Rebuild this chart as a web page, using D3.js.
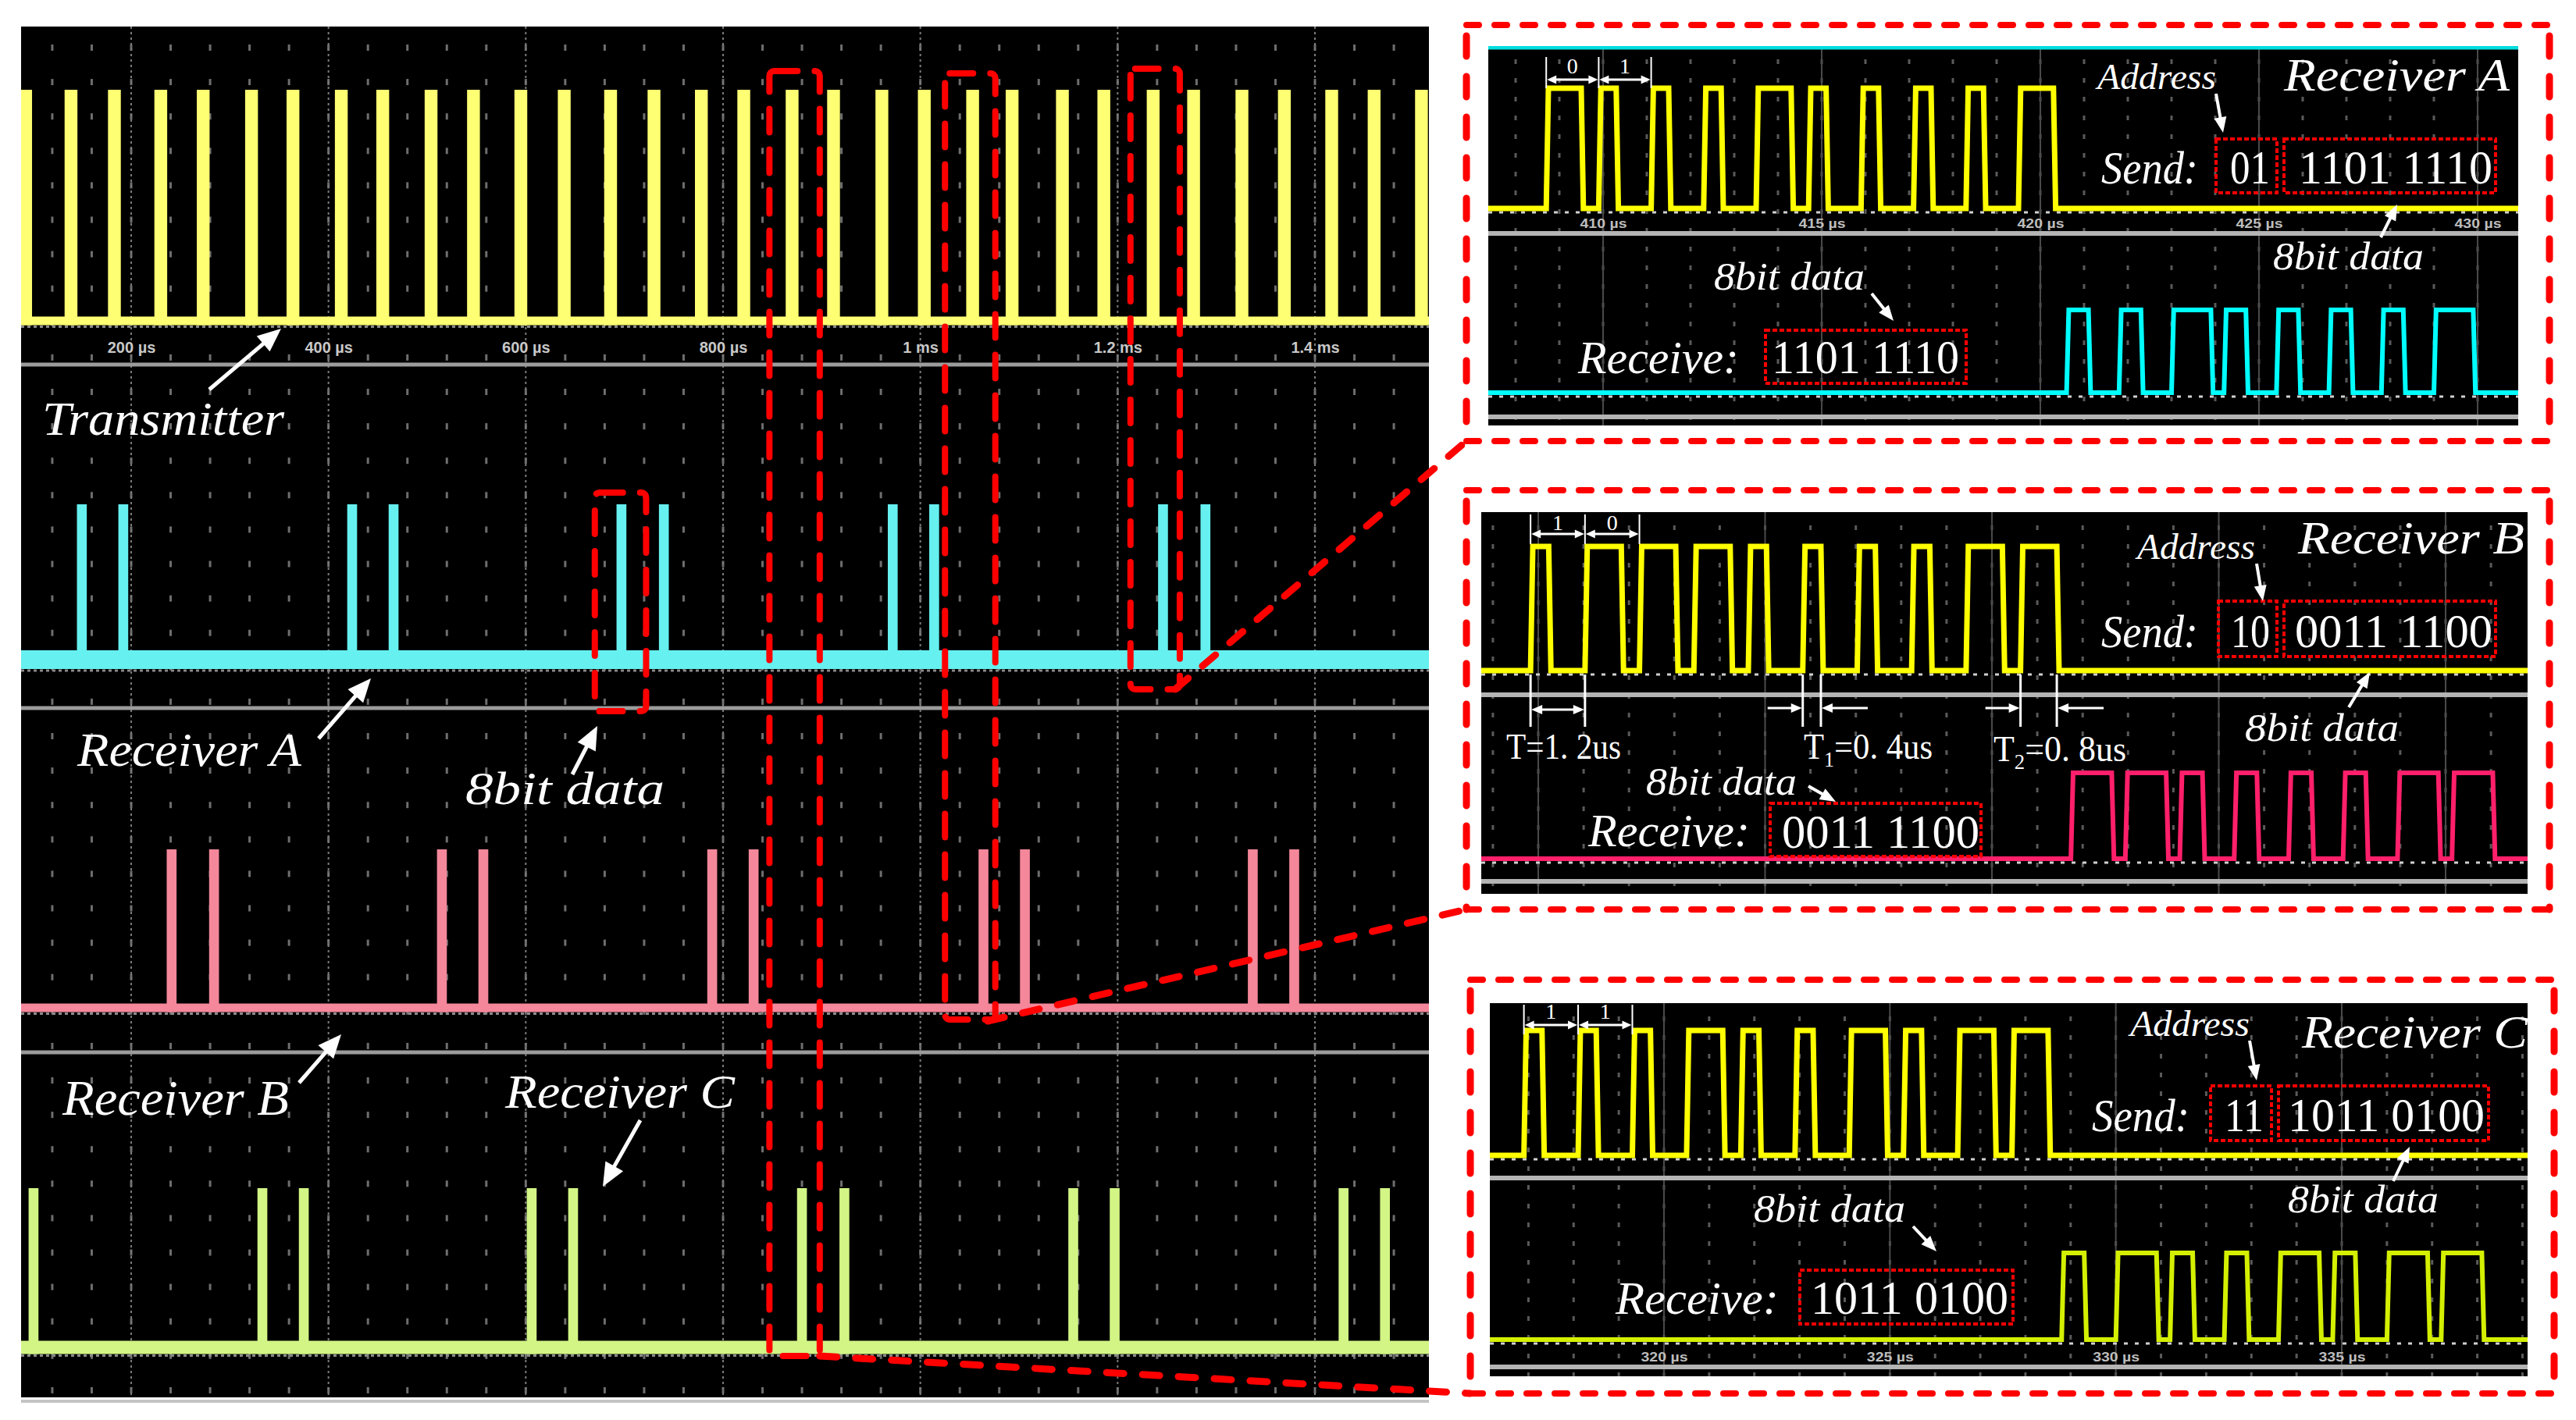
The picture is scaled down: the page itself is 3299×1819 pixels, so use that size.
<!DOCTYPE html>
<html>
  <head>
    <meta charset="utf-8">
    <title>Transmitter and receivers A, B, C</title>
    <script src="https://d3js.org/d3.v7.min.js"></script>
    <style>
      body { margin: 0; background: #fff; }
      text { font-family: "Liberation Serif", "DejaVu Serif", serif; fill: #fff; }
      .it { font-style: italic; }
      .tick text { font-family: "Liberation Sans Narrow", "Liberation Sans", sans-serif; font-weight: bold; }
    </style>
  </head>
  <body>
    <div id="chart"></div>
    <script>
      // ---- values ----
      // overview time axis
      var timeTicks = [200, 400, 600, 800, 1000, 1200, 1400];
      var timeTickLabels = ["200 µs", "400 µs", "600 µs", "800 µs", "1 ms", "1.2 ms", "1.4 ms"];

      // packet / pulse centres on the overview (µs)
      var transmitterPackets = [93, 139, 183, 230, 273, 322, 364, 413, 455, 504, 547, 595, 639, 686, 730, 778,
                                821, 870, 912, 961, 1004, 1053, 1093, 1144, 1186, 1236, 1277, 1326, 1369, 1417, 1460, 1508];
      var receiverAPulses = [150, 192, 424, 466, 697, 740, 972, 1014, 1246, 1289];
      var receiverBPulses = [241, 284, 515, 557, 789, 831, 1064, 1106, 1337, 1379];
      var receiverCPulses = [101, 333, 375, 606, 648, 880, 923, 1155, 1197, 1429, 1471];

      // highlighted windows on the overview (µs)
      var windowSpans = [[670, 722], [847, 898], [1025, 1076], [1213, 1263]];

      // zoomed frames
      var receiverNames = ["Receiver A", "Receiver B", "Receiver C"];
      var addressBits = ["01", "10", "11"];
      var dataBits = ["1101 1110", "0011 1100", "1011 0100"];
      var sendStart = [408.7, -0.17, 316.9];     // first rising edge of the sent frame
      var receiveStart = [420.6, 11.74, 328.8];  // first rising edge of the received byte
      var bitPeriod = 1.2, highOne = 0.4, highZero = 0.8;   // T, T1, T2 (µs)
      var rxHighOne = 0.5, rxHighZero = 0.9;
      var zoomTicksA = [410, 415, 420, 425, 430];
      var zoomTickLabelsA = ["410 µs", "415 µs", "420 µs", "425 µs", "430 µs"];
      var zoomTicksB = [0, 5, 10, 15, 20];
      var zoomTicksC = [320, 325, 330, 335];
      var zoomTickLabelsC = ["320 µs", "325 µs", "330 µs", "335 µs"];

      var W = 3299, H = 1819;
      var svg = d3.select("#chart").append("svg").attr("width", W).attr("height", H);
      svg.append("rect").attr("width", W).attr("height", H).attr("fill", "#fff");
      var defs = svg.append("defs");

      function txt(g, s, x, y, size, len, cls) {
        var t = g.append("text").attr("x", x).attr("y", y).attr("font-size", size).text(s);
        if (cls) t.attr("class", cls);
        if (len) t.attr("textLength", len).attr("lengthAdjust", "spacingAndGlyphs");
        return t;
      }

      // white arrow, head drawn as a triangle
      function arrow(g, x1, y1, x2, y2, w, hl, hw, both) {
        function head(xa, ya, xb, yb) {
          var dx = xb - xa, dy = yb - ya, d = Math.hypot(dx, dy), ux = dx / d, uy = dy / d;
          var bx = xb - ux * hl, by = yb - uy * hl;
          g.append("path")
            .attr("d", "M" + xb + "," + yb + "L" + (bx - uy * hw / 2) + "," + (by + ux * hw / 2) +
                       "L" + (bx + uy * hw / 2) + "," + (by - ux * hw / 2) + "Z")
            .attr("fill", "#fff");
          return [bx + ux * 2, by + uy * 2];
        }
        var e = head(x1, y1, x2, y2);
        var s = both ? head(x2, y2, x1, y1) : [x1, y1];
        g.append("line").attr("x1", s[0]).attr("y1", s[1]).attr("x2", e[0]).attr("y2", e[1])
          .attr("stroke", "#fff").attr("stroke-width", w);
      }

      // ================= overview (left) =================
      var L = { x0: 27, x1: 1830, y0: 34, y1: 1790 };
      var xL = d3.scaleLinear().domain([200, 1400]).range([168, 1684]);

      defs.append("clipPath").attr("id", "clipL").append("rect")
        .attr("x", L.x0).attr("y", L.y0).attr("width", L.x1 - L.x0).attr("height", L.y1 - L.y0);

      var gL = svg.append("g");
      gL.append("rect").attr("x", L.x0).attr("y", L.y0).attr("width", L.x1 - L.x0).attr("height", L.y1 - L.y0)
        .attr("fill", "#000");
      gL.append("line").attr("x1", L.x0).attr("x2", L.x1).attr("y1", 1795).attr("y2", 1795)
        .attr("stroke", "#c4c4c4").attr("stroke-width", 4);

      var gridL = gL.append("g").attr("clip-path", "url(#clipL)");
      var dots = [];
      d3.range(80, 1540, 40).forEach(function(t) {
        d3.range(61, 1788, 44.1).forEach(function(y) { dots.push([xL(t), y]); });
      });
      gridL.selectAll("rect.dot").data(dots).enter().append("rect").attr("class", "dot")
        .attr("x", function(d) { return d[0] - 1.5; }).attr("y", function(d) { return d[1] - 4; })
        .attr("width", 3).attr("height", 8).attr("fill", "#6e6e6e");
      gridL.selectAll("line.major").data(timeTicks).enter().append("line").attr("class", "major")
        .attr("x1", xL).attr("x2", xL).attr("y1", L.y0).attr("y2", L.y1)
        .attr("stroke", "#7a7a7a").attr("stroke-width", 2).attr("stroke-dasharray", "3 4");
      [467, 907, 1348].forEach(function(y) {
        gridL.append("line").attr("x1", L.x0).attr("x2", L.x1).attr("y1", y).attr("y2", y)
          .attr("stroke", "#9c9c9c").attr("stroke-width", 5);
      });

      var channels = [
        { pulses: transmitterPackets, width: 13, color: "#ffff73", top: 115, base: 411, band: 11 },
        { pulses: receiverAPulses, width: 10, color: "#66f0f0", top: 646, base: 845, band: 24 },
        { pulses: receiverBPulses, width: 10, color: "#f5879b", top: 1088, base: 1291, band: 11 },
        { pulses: receiverCPulses, width: 10, color: "#d2f585", top: 1522, base: 1726, band: 17 }
      ];
      channels.forEach(function(c) {
        var y = d3.scaleLinear().domain([0, 1]).range([c.base, c.top]);
        var g = gL.append("g").attr("clip-path", "url(#clipL)");
        g.append("line").attr("x1", L.x0).attr("x2", L.x1).attr("y1", c.base + c.band / 2 + 2).attr("y2", c.base + c.band / 2 + 2)
          .attr("stroke", "#8a8a8a").attr("stroke-width", 3).attr("stroke-dasharray", "4 4");
        g.append("line").attr("x1", L.x0).attr("x2", L.x1).attr("y1", y(0)).attr("y2", y(0))
          .attr("stroke", c.color).attr("stroke-width", c.band);
        g.selectAll("rect.p").data(c.pulses).enter().append("rect").attr("class", "p")
          .attr("x", function(d) { return xL(d - c.width / 2); })
          .attr("width", function(d) { return xL(d + c.width / 2) - xL(d - c.width / 2); })
          .attr("y", y(1)).attr("height", y(0) - y(1) + c.band / 2)
          .attr("fill", c.color);
      });

      var axisL = d3.axisBottom(xL).tickValues(timeTicks)
        .tickFormat(function(d, i) { return timeTickLabels[i]; }).tickSize(0);
      gL.append("g").attr("transform", "translate(0,435)").call(axisL)
        .call(function(g) { g.select(".domain").remove(); })
        .selectAll("text").attr("fill", "#c8c8c8").style("fill", "#c8c8c8").attr("font-size", 20);

      // labels on the overview
      txt(gL, "Transmitter", 54, 557, 62, 310, "it");
      arrow(gL, 268, 499, 360, 421, 5, 30, 26);
      txt(gL, "Receiver A", 99, 981, 62, 287, "it");
      arrow(gL, 408, 946, 475, 869, 5, 30, 26);
      txt(gL, "8bit data", 596, 1030, 60, 255, "it");
      arrow(gL, 733, 992, 765, 930, 5, 30, 26);
      txt(gL, "Receiver B", 80, 1428, 64, 290, "it");
      arrow(gL, 383, 1387, 437, 1325, 5, 30, 26);
      txt(gL, "Receiver C", 647, 1419, 62, 294, "it");
      arrow(gL, 820, 1435, 772, 1520, 5, 30, 26);

      // ================= zoomed frames (right) =================
      var P = [
        { border: [1878, 32, 3265, 565], screen: [1906, 59, 3225, 545], dom: [410, 430], rng: [2053, 3173],
          ticks: zoomTicksA, tickLabels: zoomTickLabelsA, axisY: 277,
          tx: [267, 113], rx: [503, 397], divider: 299, bottom: 534, rxColor: "#00ffff", topLine: "#00dede",
          addr: [2686, 114, 152], name: [2925, 116, 289], send: [2691, 235, 124],
          addrBox: [2838, 178, 2916, 247], addrTxt: [2856, 235, 51], dataBox: [2925, 178, 3196, 247], dataTxt: [2944, 235, 248],
          addrArrow: [2838, 120, 2847, 170], up8: [2911, 345, 193], up8Arrow: [3049, 304, 3070, 262],
          lo8: [2195, 371, 193], lo8Arrow: [2397, 376, 2425, 411], recv: [2021, 478, 206],
          rxBox: [2261, 423, 2518, 491], rxTxt: [2269, 478, 240], bitY: [73, 113, 102, 94] },
        { border: [1878, 628, 3265, 1165], screen: [1897, 656, 3237, 1145], dom: [0, 20], rng: [1970, 3132],
          ticks: zoomTicksB, tickLabels: null,
          tx: [859, 700], rx: [1100, 990], divider: 890, bottom: 1129, rxColor: "#ff1f6a",
          addr: [2737, 716, 151], name: [2943, 709, 290], send: [2691, 829, 124],
          addrBox: [2841, 770, 2916, 841], addrTxt: [2857, 829, 50], dataBox: [2925, 770, 3196, 841], dataTxt: [2939, 829, 253],
          addrArrow: [2890, 722, 2898, 770], up8: [2875, 949, 197], up8Arrow: [3008, 906, 3035, 861],
          lo8: [2108, 1018, 193], lo8Arrow: [2316, 1007, 2351, 1027], recv: [2034, 1084, 207],
          rxBox: [2267, 1029, 2537, 1097], rxTxt: [2282, 1086, 253], bitY: [659, 697, 684, 679] },
        { border: [1883, 1255, 3271, 1785], screen: [1908, 1285, 3237, 1763], dom: [320, 335], rng: [2131, 2999],
          ticks: zoomTicksC, tickLabels: zoomTickLabelsC, axisY: 1729,
          tx: [1480, 1320], rx: [1716, 1605], divider: 1509, bottom: 1751, rxColor: "#d4f000",
          addr: [2728, 1327, 153], name: [2948, 1342, 289], send: [2679, 1449, 125],
          addrBox: [2831, 1391, 2909, 1461], addrTxt: [2849, 1449, 50], dataBox: [2918, 1391, 3187, 1461], dataTxt: [2930, 1449, 252],
          addrArrow: [2881, 1333, 2890, 1384], up8: [2930, 1553, 193], up8Arrow: [3065, 1513, 3086, 1469],
          lo8: [2246, 1565, 194], lo8Arrow: [2450, 1571, 2480, 1603], recv: [2069, 1683, 209],
          rxBox: [2305, 1627, 2578, 1696], rxTxt: [2319, 1683, 253], bitY: [1287, 1325, 1313, 1305] }
      ];

      function wavePoints(bits, t0, hOne, hZero, tA, tB) {
        var edge = 0.05, pts = [[tA, 0]];
        bits.replace(/ /g, "").split("").forEach(function(b, i) {
          var t = t0 + i * bitPeriod, h = b === "1" ? hOne : hZero;
          pts.push([t, 0], [t + edge, 1], [t + h, 1], [t + h + edge, 0]);
        });
        pts.push([tB, 0]);
        return pts;
      }

      function redBox(g, b) {
        g.append("rect").attr("x", b[0]).attr("y", b[1]).attr("width", b[2] - b[0]).attr("height", b[3] - b[1])
          .attr("fill", "none").attr("stroke", "#ff0000").attr("stroke-width", 4).attr("stroke-dasharray", "6 3");
      }

      P.forEach(function(p, i) {
        var g = svg.append("g");
        var s = p.screen, b = p.border;
        var x = d3.scaleLinear().domain(p.dom).range(p.rng);
        var tA = x.invert(s[0]), tB = x.invert(s[2]);
        var yTx = d3.scaleLinear().domain([0, 1]).range(p.tx);
        var yRx = d3.scaleLinear().domain([0, 1]).range(p.rx);

        // dashed frame
        var fr = [[b[0], b[1], b[2], b[1], "16 20", 8], [b[0], b[3], b[2], b[3], "16 20", 8],
                  [b[0], b[1] + 14, b[0], b[3], "26 26", 9], [b[2], b[1] + 14, b[2], b[3], "26 26", 9]];
        fr.forEach(function(f) {
          g.append("line").attr("x1", f[0]).attr("y1", f[1]).attr("x2", f[2]).attr("y2", f[3])
            .attr("stroke", "#ff0000").attr("stroke-width", f[5]).attr("stroke-linecap", "round")
            .attr("stroke-dasharray", f[4]);
        });

        g.append("rect").attr("x", s[0]).attr("y", s[1]).attr("width", s[2] - s[0]).attr("height", s[3] - s[1])
          .attr("fill", "#000");
        var clipId = "clipP" + i;
        defs.append("clipPath").attr("id", clipId).append("rect")
          .attr("x", s[0]).attr("y", s[1]).attr("width", s[2] - s[0]).attr("height", s[3] - s[1]);
        var gc = g.append("g").attr("clip-path", "url(#" + clipId + ")");

        // grid
        var step = (p.ticks[1] - p.ticks[0]) / 5;
        var cols = d3.range(p.dom[0] - 10 * step, p.dom[1] + 10 * step, step);
        var rows = d3.range(s[1] + 20, s[3], 24);
        var pd = [];
        cols.forEach(function(t) { rows.forEach(function(yy) { pd.push([x(t), yy]); }); });
        gc.selectAll("rect.dot").data(pd).enter().append("rect").attr("class", "dot")
          .attr("x", function(d) { return d[0] - 1.5; }).attr("y", function(d) { return d[1] - 3; })
          .attr("width", 3).attr("height", 6).attr("fill", "#5a5a5a");
        gc.selectAll("line.major").data(p.ticks).enter().append("line").attr("class", "major")
          .attr("x1", x).attr("x2", x).attr("y1", s[1]).attr("y2", s[3])
          .attr("stroke", "#4a4a4a").attr("stroke-width", 2);
        [p.divider, p.bottom].forEach(function(yy) {
          gc.append("line").attr("x1", s[0]).attr("x2", s[2]).attr("y1", yy).attr("y2", yy)
            .attr("stroke", "#b4b4b4").attr("stroke-width", 6);
        });
        if (p.topLine) {
          gc.append("line").attr("x1", s[0]).attr("x2", s[2]).attr("y1", s[1] + 2).attr("y2", s[1] + 2)
            .attr("stroke", p.topLine).attr("stroke-width", 5);
        }
        if (p.tickLabels) {
          var ax = d3.axisBottom(x).tickValues(p.ticks)
            .tickFormat(function(d, k) { return p.tickLabels[k]; }).tickSize(0);
          gc.append("g").attr("transform", "translate(0," + p.axisY + ")").call(ax)
            .call(function(a) { a.select(".domain").remove(); })
            .selectAll("text").style("fill", "#bdbdbd").attr("font-size", 17)
            .attr("textLength", 60).attr("lengthAdjust", "spacingAndGlyphs");
        }

        // reference dots under each trace
        [p.tx[0], p.rx[0]].forEach(function(yy) {
          gc.append("line").attr("x1", s[0]).attr("x2", s[2]).attr("y1", yy + 5).attr("y2", yy + 5)
            .attr("stroke", "#d0d0d0").attr("stroke-width", 3).attr("stroke-dasharray", "5 9");
        });

        var sent = wavePoints(addressBits[i] + dataBits[i], sendStart[i], highOne, highZero, tA, tB);
        var got = wavePoints(dataBits[i], receiveStart[i], rxHighOne, rxHighZero, tA, tB);
        gc.append("path").datum(sent)
          .attr("d", d3.line().x(function(d) { return x(d[0]); }).y(function(d) { return yTx(d[1]); }))
          .attr("fill", "none").attr("stroke", "#ffff00").attr("stroke-width", 7);
        gc.append("path").datum(got)
          .attr("d", d3.line().x(function(d) { return x(d[0]); }).y(function(d) { return yRx(d[1]); }))
          .attr("fill", "none").attr("stroke", p.rxColor).attr("stroke-width", 6);

        // bit width markers over the first two bits
        var bx = [0, 1, 2].map(function(k) { return x(sendStart[i] + k * bitPeriod); });
        bx.forEach(function(xx) {
          g.append("line").attr("x1", xx).attr("x2", xx).attr("y1", p.bitY[0]).attr("y2", p.bitY[1])
            .attr("stroke", "#fff").attr("stroke-width", 2);
        });
        for (var k = 0; k < 2; k++) {
          arrow(g, bx[k] + 1, p.bitY[2], bx[k + 1] - 1, p.bitY[2], 3, 12, 11, true);
          txt(g, addressBits[i][k], (bx[k] + bx[k + 1]) / 2, p.bitY[3], 28).attr("text-anchor", "middle");
        }

        // text
        txt(g, "Address", p.addr[0], p.addr[1], 46, p.addr[2], "it");
        txt(g, receiverNames[i], p.name[0], p.name[1], 60, p.name[2], "it");
        txt(g, "Send:", p.send[0], p.send[1], 60, p.send[2], "it");
        redBox(g, p.addrBox);
        txt(g, addressBits[i], p.addrTxt[0], p.addrTxt[1], 62, p.addrTxt[2]);
        redBox(g, p.dataBox);
        txt(g, dataBits[i], p.dataTxt[0], p.dataTxt[1], 62, p.dataTxt[2]).style("white-space", "pre");
        arrow(g, p.addrArrow[0], p.addrArrow[1], p.addrArrow[2], p.addrArrow[3], 4, 20, 16);
        txt(g, "8bit data", p.up8[0], p.up8[1], 50, p.up8[2], "it");
        arrow(g, p.up8Arrow[0], p.up8Arrow[1], p.up8Arrow[2], p.up8Arrow[3], 4, 20, 16);
        txt(g, "8bit data", p.lo8[0], p.lo8[1], 50, p.lo8[2], "it");
        arrow(g, p.lo8Arrow[0], p.lo8Arrow[1], p.lo8Arrow[2], p.lo8Arrow[3], 4, 20, 16);
        txt(g, "Receive:", p.recv[0], p.recv[1], 60, p.recv[2], "it");
        redBox(g, p.rxBox);
        txt(g, dataBits[i], p.rxTxt[0], p.rxTxt[1], 62, p.rxTxt[2]);

        // timing annotations (Receiver B frame)
        if (i === 1) {
          var t0 = sendStart[i];
          var xT = [x(t0), x(t0 + bitPeriod)];
          var xT1 = [x(t0 + 5 * bitPeriod), x(t0 + 5 * bitPeriod + highOne)];
          var xT2 = [x(t0 + 9 * bitPeriod), x(t0 + 9 * bitPeriod + highZero)];
          [xT, xT1, xT2].forEach(function(pair) {
            pair.forEach(function(xx) {
              g.append("line").attr("x1", xx).attr("x2", xx).attr("y1", 864).attr("y2", 931)
                .attr("stroke", "#fff").attr("stroke-width", 3);
            });
          });
          arrow(g, xT[0] + 1, 909, xT[1] - 1, 909, 3, 14, 12, true);
          arrow(g, xT1[0] - 45, 907, xT1[0] - 1, 907, 3, 14, 12);
          arrow(g, xT1[1] + 60, 907, xT1[1] + 1, 907, 3, 14, 12);
          arrow(g, xT2[0] - 45, 907, xT2[0] - 1, 907, 3, 14, 12);
          arrow(g, xT2[1] + 60, 907, xT2[1] + 1, 907, 3, 14, 12);
          txt(g, "T=1. 2us", 1929, 972, 46, 147);
          var t1 = txt(g, "", 2310, 972, 46, 165);
          t1.append("tspan").text("T");
          t1.append("tspan").attr("font-size", 28).attr("dy", 10).text("1");
          t1.append("tspan").attr("dy", -10).text("=0. 4us");
          var t2 = txt(g, "", 2553, 975, 46, 170);
          t2.append("tspan").text("T");
          t2.append("tspan").attr("font-size", 28).attr("dy", 10).text("2");
          t2.append("tspan").attr("dy", -10).text("=0. 8us");
        }
      });

      // ================= red dashed windows and connectors =================
      var gR = svg.append("g");
      var windowY = [[631, 911], [91, 1737], [94, 1306], [88, 883]];
      windowSpans.forEach(function(w, k) {
        gR.append("rect").attr("x", xL(w[0])).attr("y", windowY[k][0])
          .attr("width", xL(w[1]) - xL(w[0])).attr("height", windowY[k][1] - windowY[k][0])
          .attr("rx", 6).attr("fill", "none").attr("stroke", "#ff0000").attr("stroke-width", 8)
          .attr("stroke-linecap", "round").attr("stroke-dasharray", "30 22");
      });
      var connectors = [
        [xL(windowSpans[3][1]) - 6, 883, P[0].border[0], P[0].border[3]],
        [xL(windowSpans[2][1]) - 10, 1308, P[1].border[0], P[1].border[3]],
        [xL(windowSpans[1][1]), 1737, P[2].border[0], P[2].border[3]]
      ];
      connectors.forEach(function(c) {
        gR.append("line").attr("x1", c[0]).attr("y1", c[1]).attr("x2", c[2]).attr("y2", c[3])
          .attr("stroke", "#ff0000").attr("stroke-width", 9).attr("stroke-linecap", "round")
          .attr("stroke-dasharray", "22 24");
      });
    </script>
  </body>
</html>
